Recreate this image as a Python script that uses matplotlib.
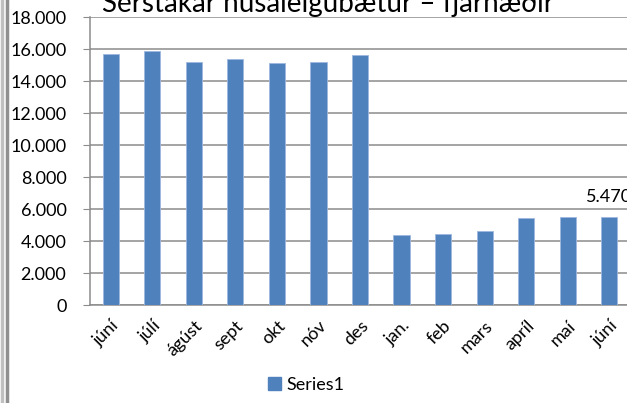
import matplotlib.pyplot as plt
from matplotlib.ticker import FuncFormatter, MultipleLocator
from matplotlib.lines import Line2D
from matplotlib.patches import Patch

plt.rcParams['font.family'] = ['Lato', 'DejaVu Sans']

months = ['júní', 'júlí', 'ágúst', 'sept', 'okt', 'nóv', 'des',
          'jan.', 'feb', 'mars', 'apríl', 'maí', 'júní']
values = [15690, 15850, 15200, 15390, 15120, 15200, 15600,
          4350, 4450, 4600, 5420, 5470, 5470]
title = 'Sérstakar húsaleigubætur – fjárhæðir'

W, H = 627, 403
fig = plt.figure(figsize=(W / 100, H / 100), dpi=100)
ax = fig.add_axes([90 / W, 1 - 305 / H, 540 / W, 288 / H])

x = list(range(len(months)))
ax.bar(x, values, width=0.39, color='#4F81BD', edgecolor='#9DB9DE',
       linewidth=0.6, zorder=3)
ax.set_xlim(-0.5, len(months) - 0.5)
ax.set_ylim(0, 18000)
ax.yaxis.set_major_locator(MultipleLocator(2000))
ax.yaxis.set_major_formatter(FuncFormatter(lambda v, p: f'{int(v):,}'.replace(',', '.')))
ax.grid(axis='y', color='#8C8C8C', linewidth=1.1, zorder=0)

for s in ['top', 'right']:
    ax.spines[s].set_visible(False)
for s in ['left', 'bottom']:
    ax.spines[s].set_color('#8C8C8C')
    ax.spines[s].set_linewidth(1.1)

ax.tick_params(axis='y', length=5, color='#8C8C8C', labelsize=13, pad=12)
ax.tick_params(axis='x', length=0, labelsize=13, pad=9)
ax.set_xticks(x)
ax.set_xticklabels(months, rotation=45, ha='right', rotation_mode='anchor')

# value label on the last bar
ax.text(x[-1], values[-1] + 750, f'{values[-1]:,}'.replace(',', '.'),
        ha='center', va='bottom', fontsize=13)

fig.text(328 / W, 1 - 12 / H, title, ha='center', va='baseline', fontsize=20)

fig.legend(handles=[Patch(color='#4F81BD', label='Series1')],
           loc='center', bbox_to_anchor=(306 / W, 1 - 385 / H),
           frameon=False, fontsize=13, handlelength=0.7, handleheight=0.7,
           handletextpad=0.3)

# frame lines on the left edge
fig.add_artist(Line2D([1.5 / W, 1.5 / W], [0, 1], color='#C0C0C0', lw=2.5))
fig.add_artist(Line2D([6.5 / W, 6.5 / W], [0, 1], color='#909090', lw=2.5))

fig.savefig('out.png', dpi=100)
